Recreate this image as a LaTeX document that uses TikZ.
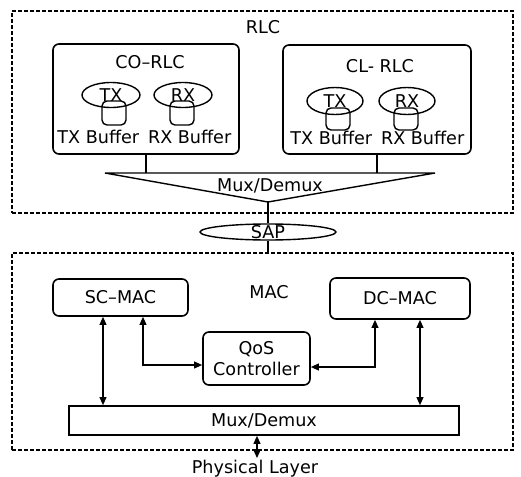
\documentclass[tikz,border=0pt]{standalone}
\usepackage{fontspec}
\setmainfont{DejaVu Sans}
\usetikzlibrary{arrows.meta,positioning,shapes.geometric}
\tikzset{
  >={Triangle[length=4pt,width=3.4pt]},
  % lager
  lay/.style={draw,dash pattern=on 2pt off 1pt,line width=0.75pt,inner sep=0pt},
  sub/.style={draw,rounded corners=3pt,line width=0.8pt,inner sep=0pt},
  blk/.style={draw,line width=0.8pt,inner sep=0pt},
  ell/.style={draw,ellipse,line width=0.7pt,inner sep=0pt,
              minimum width=29pt,minimum height=12.5pt},
  bf/.style={draw,rounded corners=2.5pt,line width=0.7pt,inner sep=0pt,
             minimum width=12pt,minimum height=12pt},
  bt/.style={inner sep=1pt},
  wire/.style={line width=0.7pt},
  lnk/.style={<->,line width=0.7pt},
}
\begin{document}
\begin{tikzpicture}[x=0.5pt,y=-0.5pt,font=\fontsize{8.8}{10.5}\selectfont]
  \useasboundingbox (0,0) rectangle (521,477);
  % RLC
  \node[lay,minimum width=250.5pt,minimum height=101pt] (rlc) at (262.5,112) {};
  \node (rlct) at (263,27) {RLC};
  \node[sub,minimum width=93pt,minimum height=55pt] (co) at (146,99) {};
  \node (cot) at (150,62) {CO--RLC};
  \node[ell] (cotx) at (111,95) {TX};  \node[ell] (corx) at (183,95) {RX};
  \node[bf] (cotb) at (114,113) {};   \node[bf] (corb) at (182,113) {};
  \node[bt,anchor=west] (cotbt) at (55,137) {TX Buffer};
  \node[bt,right=2pt of cotbt] (corbt) {RX Buffer};
  \node[sub,minimum width=94pt,minimum height=54.5pt] (cl) at (377,99.5) {};
  \node (clt) at (380,66) {CL- RLC};
  \node[ell,minimum width=28pt,minimum height=13.5pt] (cltx) at (335,101) {TX};
  \node[ell,minimum width=28pt,minimum height=13.5pt] (clrx) at (407,101) {RX};
  \node[bf,minimum height=11pt] (cltb) at (338,119) {};
  \node[bf,minimum height=11pt] (clrb) at (406,119) {};
  \node[bt,anchor=west] (cltbt) at (288,138) {TX Buffer};
  \node[bt,right=2pt of cltbt] (clrbt) {RX Buffer};
  \draw[wire] (105,173) coordinate (mxl) -- (435,173) coordinate (mxr)
    -- (268,202) coordinate (apx) -- cycle;
  \node (mxt) at (270,186) {Mux/Demux};
  \draw[wire] (co.south) -- (co.south |- mxl);
  \draw[wire] (cl.south) -- (cl.south |- mxl);
  % SAP
  \node[ell,minimum width=68pt,minimum height=8pt] (sap) at (268,232) {};
  \node (sapt) at (sap) {SAP};
  \draw[wire] (apx) -- (sap.north);
  % MAC
  \node[lay,minimum width=250.5pt,minimum height=98.5pt] (mac) at (262.5,351.5) {};
  \draw[wire] (sap.south) -- (sap.south |- mac.north);
  \node (mact) at (269,292) {MAC};
  \node[sub,minimum width=67.5pt,minimum height=18.5pt] (sc) at (120.5,297.5) {SC--MAC};
  \node[sub,minimum width=70pt,minimum height=20.5pt] (dc) at (400,298.5) {DC--MAC};
  \node[sub,minimum width=53.5pt,minimum height=26.5pt,align=center] (qos)
    at (256.5,358.5) {QoS\\Controller};
  \node[blk,minimum width=195pt,minimum height=14.5pt] (mux) at (264,420.5) {Mux/Demux};
  \node[bt] (phy) at (255,469) {Physical Layer};
  \draw[lnk] ([xshift=-8.75pt]sc.south) -- ([xshift=-8.75pt]sc.south |- mux.north);
  \draw[lnk] ([xshift=11.25pt]sc.south) |- ([yshift=-3.25pt]qos.west);
  \draw[lnk] ([yshift=-4.25pt]qos.east) -| ([xshift=-12.5pt]dc.south);
  \draw[lnk] ([xshift=10pt]dc.south) -- ([xshift=10pt]dc.south |- mux.north);
  \draw[lnk] ([xshift=-3.5pt]mux.south) -- ([xshift=-3.5pt]mux.south |- phy.north);
\end{tikzpicture}
\end{document}
